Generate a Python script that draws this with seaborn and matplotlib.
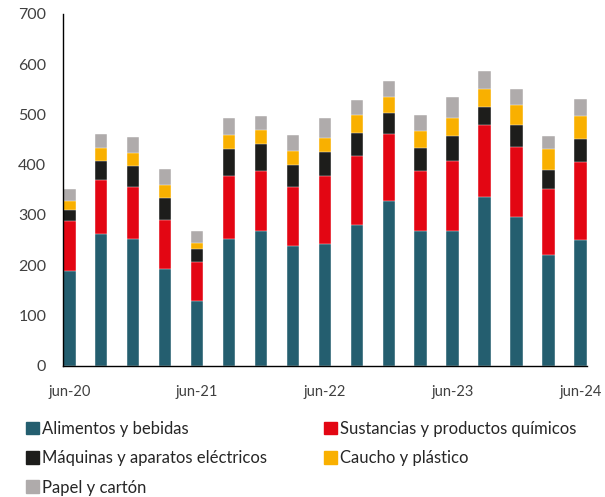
import matplotlib
matplotlib.use("Agg")
import matplotlib.pyplot as plt
import seaborn as sns
import pandas as pd
import numpy as np

# quarterly periods jun-20 ... jun-24
periods = ["jun-20", "sep-20", "dic-20", "mar-21", "jun-21", "sep-21", "dic-21", "mar-22",
           "jun-22", "sep-22", "dic-22", "mar-23", "jun-23", "sep-23", "dic-23", "mar-24", "jun-24"]
tick_labels = ["jun-20", "jun-21", "jun-22", "jun-23", "jun-24"]

alimentos = [188, 262, 252, 193, 129, 252, 268, 239, 242, 280, 327, 268, 268, 336, 296, 221, 250]
quimicos = [100, 108, 103, 97, 77, 126, 119, 116, 136, 138, 134, 119, 140, 143, 140, 131, 155]
maquinas = [22, 37, 42, 43, 26, 53, 54, 45, 47, 46, 41, 46, 49, 36, 43, 38, 46]
caucho = [17, 27, 26, 26, 13, 28, 28, 28, 29, 35, 33, 34, 35, 36, 39, 41, 46]
papel = [24, 27, 33, 33, 23, 33, 27, 32, 38, 29, 31, 32, 43, 35, 32, 27, 34]

series_names = ["Alimentos y bebidas", "Sustancias y productos químicos",
                "Máquinas y aparatos eléctricos", "Caucho y plástico", "Papel y cartón"]
colors = ["#245E6F", "#E30613", "#1D1D1B", "#F9B000", "#AFABAB"]

df = pd.DataFrame({
    "periodo": periods,
    series_names[0]: alimentos,
    series_names[1]: quimicos,
    series_names[2]: maquinas,
    series_names[3]: caucho,
    series_names[4]: papel,
})

# cumulative sums so each layer can be drawn on top of the previous one
cum = df[series_names].cumsum(axis=1)

sns.set_style("white")
plt.rcParams["font.family"] = ["Lato", "DejaVu Sans"]

fig = plt.figure(figsize=(6.05, 4.97), dpi=100)
ax = fig.add_axes([0.104, 0.264, 0.866, 0.708])

handles = []
for name, color in reversed(list(zip(series_names, colors))):
    sns.barplot(x=df["periodo"], y=cum[name], color=color, width=0.39,
                order=periods, ax=ax, saturation=1, edgecolor="white", linewidth=0.3)
    handles.append(plt.Rectangle((0, 0), 1, 1, color=color, label=name))
handles = handles[::-1]

ax.set_xlim(-0.2, 16.2)
ax.set_ylim(0, 700)
ax.set_yticks(range(0, 701, 100))
tick_pos = [periods.index(t) for t in tick_labels]
ax.set_xticks(tick_pos)
ax.set_xticklabels(tick_labels)
# small tick marks sit at the left edge of the labelled bars
ax.set_xticks([p - 0.19 for p in tick_pos[1:]], minor=True)
ax.set_xlabel("")
ax.set_ylabel("")

sns.despine(ax=ax)
for s in ["left", "bottom"]:
    ax.spines[s].set_color("black")
    ax.spines[s].set_linewidth(1)
ax.tick_params(axis="y", direction="in", length=5, color="black", labelsize=11.5,
               labelcolor="#404040", pad=12)
ax.tick_params(axis="x", which="major", length=0, labelsize=10.5, labelcolor="#404040", pad=14)
ax.tick_params(axis="x", which="minor", direction="in", length=4, color="black", width=1)

# row-major order in a 2 column legend
order = [0, 2, 4, 1, 3]
fig.legend([handles[i] for i in order], [series_names[i] for i in order],
           loc="upper left", bbox_to_anchor=(0.029, 0.170), ncol=2, frameon=False,
           fontsize=12, handlelength=0.8, handleheight=0.8, handletextpad=0.18,
           columnspacing=3.4, labelspacing=0.8, borderpad=0, labelcolor="#262626")

fig.savefig("out.png", dpi=100)
